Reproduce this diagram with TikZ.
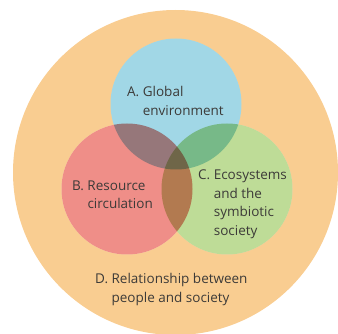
\documentclass[tikz,border=0pt]{standalone}
\usepackage{fontspec}
\setmainfont{Open Sans}

\definecolor{societyorange}{HTML}{F9CD91}
\definecolor{globalblue}{HTML}{A1D7E6}
\definecolor{resourcered}{HTML}{EF8E88}
\definecolor{ecogreen}{HTML}{BEDC97}
\definecolor{textgrey}{HTML}{3C3A38}

\newcommand{\itemlines}[2]{\begin{tabular}[t]{@{}l@{ }l@{}}#1 & #2\end{tabular}}

\begin{document}
\begin{tikzpicture}[x=1pt, y=-1pt,
    area/.style={circle, inner sep=0pt, minimum size=131pt},
    areatext/.style={anchor=base west, inner sep=0pt, text=textgrey,
      font=\fontsize{13.5}{18.5}\selectfont}]
  \useasboundingbox (0,0) rectangle (338,334);

  % outer circle
  \node[area, minimum size=325pt, fill=societyorange] (society) at (175.5,172.5) {};

  \coordinate (a) at (176,104);
  \coordinate (b) at (127,189);
  \coordinate (c) at (227,189);
  \foreach \p in {a,b,c}
    \fill[white] (\p) circle (65.5);

  % the three areas, mixed
  \begin{scope}[blend mode=multiply]
    \node[area, fill=globalblue] (global) at (a) {};
    \node[area, fill=resourcered] (resource) at (b) {};
    \node[area, fill=ecogreen] (eco) at (c) {};
  \end{scope}

  \node[areatext] (textA) at (127,97) {\itemlines{A.}{Global\\ & environment}};
  \node[areatext] (textB) at (72,190.5) {\itemlines{B.}{Resource\\ & circulation}};
  \node[areatext] (textC) at (198,180) {\itemlines{C.}{Ecosystems\\ & and the\\ & symbiotic\\ & society}};
  \node[areatext] (textD) at (95,284) {\itemlines{D.}{Relationship between\\ & people and society}};
\end{tikzpicture}
\end{document}
